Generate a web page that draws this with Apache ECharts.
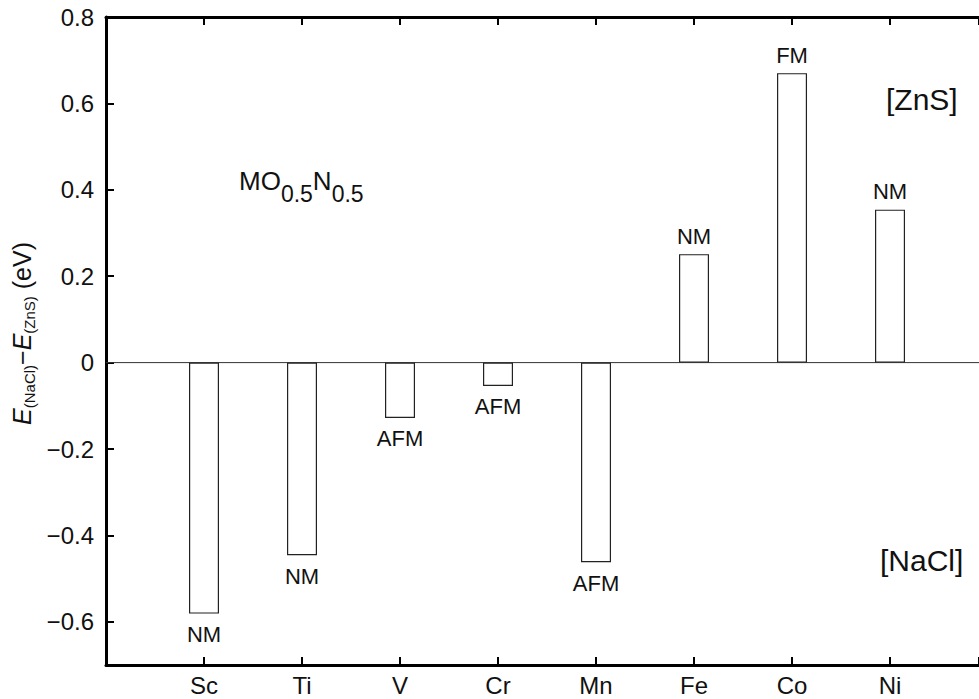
<!DOCTYPE html>
<html>
<head>
<meta charset="utf-8">
<script src="https://cdn.jsdelivr.net/npm/echarts@6/dist/echarts.min.js"></script>
<style>
  html, body { margin: 0; padding: 0; background: #fff; }
  #chart { width: 979px; height: 699px; }
</style>
</head>
<body>
<div id="chart"></div>
<script>
// Energy difference between rock-salt and zinc-blende phases of MO0.5N0.5
const metals = ['Sc', 'Ti', 'V', 'Cr', 'Mn', 'Fe', 'Co', 'Ni'];
const energyDiff = [-0.581, -0.446, -0.128, -0.054, -0.462, 0.251, 0.670, 0.354];
const magneticState = ['NM', 'NM', 'AFM', 'AFM', 'AFM', 'NM', 'FM', 'NM'];
const yTicks = [-0.6, -0.4, -0.2, 0, 0.2, 0.4, 0.6, 0.8];

const FONT = '"Liberation Sans", Arial, Helvetica, sans-serif';

// metals sit at positions 1..8; the frame runs from 0 to just short of 9
const xPos = metals.map((m, i) => i + 1);
const X_MAX = 8.908;
const barData = metals.map((m, i) => ({
  value: [xPos[i], energyDiff[i]],
  label: energyDiff[i] >= 0 ? { position: 'top', distance: 7 } : { position: 'bottom', distance: 10 }
}));
// reference line at zero energy difference across the frame
const zeroLine = [[0, 0], [X_MAX, 0]];

const fmtTick = v => {
  if (Math.abs(v) < 1e-9) return '0';
  return (v < 0 ? '\u2212' : '') + Math.abs(v).toFixed(1);
};

const makeLine = () => ({ show: true, onZero: false, lineStyle: { color: '#000', width: 3 } });
const makeTick = () => ({ show: true, inside: true, length: 8, lineStyle: { color: '#000', width: 2 } });

const chart = echarts.init(document.getElementById('chart'), null, { renderer: 'svg' });

chart.setOption({
  animation: false,
  backgroundColor: '#fff',
  grid: { left: 106, top: 17, bottom: 34, right: 0 },
  xAxis: [
    {
      type: 'value',
      position: 'bottom',
      min: 0,
      max: X_MAX,
      splitNumber: 8,
      axisLine: makeLine(),
      axisTick: makeTick(),
      axisLabel: {
        customValues: xPos,
        formatter: v => metals[Math.round(v) - 1] || '',
        fontSize: 24, color: '#111', margin: 8, fontFamily: FONT
      },
      splitLine: { show: false }
    },
    {
      type: 'value',
      position: 'top',
      min: 0,
      max: X_MAX,
      splitNumber: 8,
      axisLine: makeLine(),
      axisTick: makeTick(),
      axisLabel: { show: false },
      splitLine: { show: false }
    }
  ],
  yAxis: {
    type: 'value',
    min: -0.7,
    max: 0.8,
    splitNumber: 7,
    axisLine: makeLine(),
    axisTick: makeTick(),
    axisLabel: {
      customValues: yTicks,
      formatter: fmtTick,
      fontSize: 24,
      color: '#111',
      margin: 12,
      fontFamily: FONT
    },
    splitLine: { show: false }
  },
  series: [
    {
      type: 'line',
      xAxisIndex: 0,
      data: zeroLine,
      symbol: 'none',
      silent: true,
      lineStyle: { color: '#333', width: 1 },
      z: 1
    },
    {
      type: 'bar',
      xAxisIndex: 0,
      data: barData,
      barWidth: 30,
      itemStyle: { color: '#fff', borderColor: '#222', borderWidth: 1.2 },
      label: {
        show: true,
        fontSize: 22,
        color: '#111',
        fontFamily: FONT,
        formatter: p => magneticState[p.dataIndex]
      },
      z: 2
    }
  ],
  graphic: [
    {
      type: 'text',
      z: 100,
      left: 9,
      top: 242,
      rotation: Math.PI / 2,
      style: {
        text: '{e|E}{s|(NaCl)}{m|\u2212}{e|E}{s|(ZnS)}{m| (eV)}',
        fill: '#111',
        rich: {
          e: { fontSize: 25, fontStyle: 'italic', verticalAlign: 'top', fill: '#111', fontFamily: FONT },
          m: { fontSize: 25, verticalAlign: 'top', fill: '#111', fontFamily: FONT },
          s: { fontSize: 15, verticalAlign: 'bottom', padding: [13, 0, 0, 0], fill: '#111', fontFamily: FONT }
        }
      }
    },
    {
      type: 'text',
      z: 100,
      left: 239,
      top: 168,
      style: {
        text: '{b|MO}{s|0.5}{b|N}{s|0.5}',
        fill: '#111',
        rich: {
          b: { fontSize: 26, verticalAlign: 'top', fill: '#111', fontFamily: FONT },
          s: { fontSize: 23, verticalAlign: 'bottom', padding: [14, 0, 0, 0], fill: '#111', fontFamily: FONT }
        }
      }
    },
    {
      type: 'text',
      z: 100,
      left: 886,
      top: 84,
      style: { text: '[ZnS]', fontSize: 30, fill: '#111', fontFamily: FONT }
    },
    {
      type: 'text',
      z: 100,
      left: 880,
      top: 545,
      style: { text: '[NaCl]', fontSize: 30, fill: '#111', fontFamily: FONT }
    }
  ]
});
</script>
</body>
</html>
